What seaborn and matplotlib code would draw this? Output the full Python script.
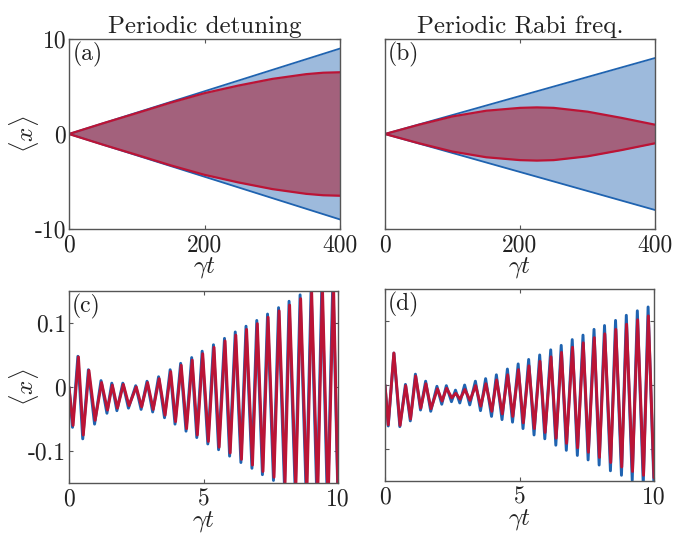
import numpy as np
import pandas as pd
import matplotlib
matplotlib.use("Agg")
import matplotlib.pyplot as plt
import seaborn as sns

# --- data ---
# (a) periodic detuning, envelopes
t_env_a = [0, 400]
blue_env_a = [0, 9.0]
t_red_a = [0, 50, 100, 150, 200, 250, 300, 350, 375, 400]
red_env_a = [0, 1.12, 2.2, 3.3, 4.3, 5.1, 5.8, 6.3, 6.45, 6.5]

# (b) periodic Rabi frequency, envelopes
t_env_b = [0, 400]
blue_env_b = [0, 8.0]
t_red_b = [0, 50, 100, 150, 200, 225, 250, 300, 350, 400]
red_env_b = [0, 0.97, 1.85, 2.45, 2.75, 2.8, 2.75, 2.35, 1.7, 0.98]

# (c) periodic detuning, short time (extrema)
t_red_c = [0.00, 0.15, 0.35, 0.53, 0.74, 0.97, 1.21, 1.43, 1.61, 1.80, 2.02, 2.23,
           2.50, 2.70, 2.92, 3.13, 3.35, 3.57, 3.78, 3.96, 4.17, 4.37, 4.58, 4.77,
           4.97, 5.18, 5.39, 5.58, 5.80, 5.99, 6.20, 6.41, 6.60, 6.82, 7.00, 7.21,
           7.40, 7.62, 7.81, 8.03, 8.20, 8.43, 8.61, 8.84, 9.02, 9.24, 9.42, 9.63,
           9.83, 10.0]
x_red_c = [0.000, -0.060, 0.047, -0.075, 0.026, -0.052, 0.007, -0.036, 0.003, -0.033,
           0.004, -0.029, 0.000, -0.031, 0.007, -0.035, 0.013, -0.044, 0.024, -0.054,
           0.034, -0.065, 0.042, -0.075, 0.052, -0.085, 0.062, -0.094, 0.072, -0.103,
           0.081, -0.113, 0.090, -0.122, 0.099, -0.132, 0.109, -0.141, 0.119, -0.150,
           0.128, -0.159, 0.138, -0.168, 0.148, -0.177, 0.157, -0.186, 0.166, -0.17]
t_blue_c = [0.00, 0.13, 0.33, 0.51, 0.72, 0.95, 1.19, 1.41, 1.59, 1.78, 2.00, 2.21,
            2.48, 2.68, 2.90, 3.11, 3.33, 3.55, 3.76, 3.94, 4.15, 4.35, 4.56, 4.75,
            4.95, 5.16, 5.37, 5.56, 5.78, 5.97, 6.18, 6.39, 6.58, 6.80, 6.98, 7.19,
            7.38, 7.60, 7.79, 8.01, 8.18, 8.41, 8.59, 8.82, 9.00, 9.22, 9.40, 9.61,
            9.81, 10.0]
x_blue_c = [0.000, -0.063, 0.048, -0.081, 0.027, -0.058, 0.010, -0.041, 0.006, -0.037,
            0.006, -0.033, 0.002, -0.035, 0.009, -0.039, 0.016, -0.048, 0.027, -0.058,
            0.037, -0.069, 0.046, -0.079, 0.056, -0.089, 0.066, -0.098, 0.076, -0.108,
            0.086, -0.118, 0.095, -0.127, 0.104, -0.137, 0.114, -0.146, 0.124, -0.156,
            0.134, -0.165, 0.144, -0.174, 0.154, -0.184, 0.163, -0.193, 0.173, -0.18]

# (d) periodic Rabi frequency, short time (extrema)
t_red_d = [0.00, 0.12, 0.33, 0.56, 0.77, 0.95, 1.14, 1.33, 1.52, 1.71, 1.95, 2.12,
           2.29, 2.48, 2.63, 2.79, 2.97, 3.16, 3.37, 3.56, 3.75, 3.97, 4.15, 4.36,
           4.56, 4.75, 4.96, 5.14, 5.35, 5.55, 5.76, 5.95, 6.17, 6.36, 6.56, 6.75,
           6.97, 7.16, 7.37, 7.56, 7.78, 7.97, 8.17, 8.39, 8.58, 8.80, 8.98, 9.20,
           9.39, 9.61, 9.79, 10.0]
x_red_d = [0.000, -0.062, 0.050, -0.063, -0.001, -0.053, 0.014, -0.036, 0.002, -0.037,
           -0.006, -0.025, -0.005, -0.020, -0.013, -0.022, -0.007, -0.024, -0.001, -0.033,
           0.002, -0.041, 0.008, -0.045, 0.016, -0.049, 0.024, -0.059, 0.030, -0.068,
           0.037, -0.074, 0.044, -0.083, 0.051, -0.091, 0.059, -0.098, 0.066, -0.105,
           0.074, -0.113, 0.080, -0.121, 0.087, -0.128, 0.095, -0.135, 0.102, -0.141,
           0.108, -0.145]
t_blue_d = [0.00, 0.12, 0.33, 0.55, 0.76, 0.94, 1.13, 1.32, 1.51, 1.70, 1.93, 2.11,
            2.28, 2.47, 2.62, 2.78, 2.96, 3.15, 3.36, 3.55, 3.74, 3.96, 4.14, 4.35,
            4.55, 4.74, 4.95, 5.13, 5.34, 5.54, 5.75, 5.94, 6.16, 6.35, 6.55, 6.74,
            6.96, 7.15, 7.36, 7.55, 7.77, 7.96, 8.16, 8.38, 8.57, 8.79, 8.97, 9.19,
            9.38, 9.60, 9.78, 10.0]
x_blue_d = [0.000, -0.064, 0.050, -0.065, 0.001, -0.056, 0.017, -0.039, 0.006, -0.041,
            -0.002, -0.030, -0.001, -0.026, -0.008, -0.028, 0.000, -0.031, 0.006, -0.040,
            0.010, -0.049, 0.016, -0.054, 0.025, -0.058, 0.033, -0.068, 0.040, -0.078,
            0.047, -0.084, 0.055, -0.094, 0.062, -0.102, 0.071, -0.110, 0.078, -0.117,
            0.087, -0.125, 0.093, -0.134, 0.101, -0.141, 0.109, -0.149, 0.116, -0.155,
            0.122, -0.16]

titles = ["Periodic detuning", "Periodic Rabi freq."]
panel_labels = ["(a)", "(b)", "(c)", "(d)"]

BLUE = "#1f63b0"
RED = "#bb1436"
BLUE_FILL = "#9dbadc"
RED_FILL = "#a3617c"

sns.set_style("ticks")
plt.rcParams["font.family"] = ["cmr10", "DejaVu Serif"]
plt.rcParams["mathtext.fontset"] = "cm"
plt.rcParams["axes.formatter.use_mathtext"] = True
plt.rcParams["axes.unicode_minus"] = False

fig = plt.figure(figsize=(6.88, 5.33), dpi=100)
ax_a = fig.add_axes([0.1003, 0.5704, 0.394, 0.3564])
ax_b = fig.add_axes([0.5596, 0.5704, 0.3924, 0.3564])
ax_c = fig.add_axes([0.1003, 0.0938, 0.391, 0.3602])
ax_d = fig.add_axes([0.5596, 0.0975, 0.391, 0.3602])


def envelope(ax, t_env, blue_env, t_red, red_env):
    t_env = np.array(t_env)
    blue_env = np.array(blue_env)
    t_red = np.array(t_red)
    red_env = np.array(red_env)
    ax.fill_between(t_env, -blue_env, blue_env, color=BLUE_FILL, lw=0)
    ax.fill_between(t_red, -red_env, red_env, color=RED_FILL, lw=0)
    for s in [1, -1]:
        sns.lineplot(x=t_env, y=s * blue_env, ax=ax, color=BLUE, lw=1.3)
        sns.lineplot(x=t_red, y=s * red_env, ax=ax, color=RED, lw=1.6)
    ax.set_xlim(0, 400)
    ax.set_ylim(-10, 10)
    ax.set_xticks([0, 200, 400])
    ax.set_xticklabels(["0", "200", "400"])
    ax.set_yticks([-10, 0, 10])


def oscill(ax, tb, xb, tr, xr):
    df_b = pd.DataFrame({"t": tb, "x": xb})
    df_r = pd.DataFrame({"t": tr, "x": xr})
    sns.lineplot(data=df_b, x="t", y="x", ax=ax, color=BLUE, lw=2.1)
    sns.lineplot(data=df_r, x="t", y="x", ax=ax, color=RED, lw=2.1)
    ax.set_xlim(0, 10)
    ax.set_ylim(-0.15, 0.15)
    ax.set_xticks([0, 5, 10])
    ax.set_xticklabels(["0", "5", "10"])
    ax.set_yticks([-0.1, 0, 0.1])


envelope(ax_a, t_env_a, blue_env_a, t_red_a, red_env_a)
envelope(ax_b, t_env_b, blue_env_b, t_red_b, red_env_b)
oscill(ax_c, t_blue_c, x_blue_c, t_red_c, x_red_c)
oscill(ax_d, t_blue_d, x_blue_d, t_red_d, x_red_d)

ax_a.set_yticklabels(["-10", "0", "10"])
ax_b.set_yticklabels([])
ax_c.set_yticklabels(["-0.1", "0", "0.1"])
ax_d.set_yticklabels([])

for i, ax in enumerate([ax_a, ax_b, ax_c, ax_d]):
    for sp in ax.spines.values():
        sp.set_color("#555555")
        sp.set_linewidth(1.0)
    ax.tick_params(direction="in", top=True, right=True, length=3, width=0.8,
                   color="#555555", labelsize=17, labelcolor="#222222", pad=2)
    ax.tick_params(axis="x", pad=4)
    ax.text(0.012, 0.985, panel_labels[i], transform=ax.transAxes, ha="left",
            va="top", fontsize=17, color="#222222")
    ax.set_xlabel(r"$\gamma t$", fontsize=18, labelpad=-1, color="#222222")
    ax.set_ylabel("")

ax_a.set_ylabel(r"$\langle x\rangle$", fontsize=18, color="#222222")
ax_c.set_ylabel(r"$\langle x\rangle$", fontsize=18, color="#222222")
ax_a.yaxis.set_label_coords(-0.105, 0.5)
ax_c.yaxis.set_label_coords(-0.105, 0.5)
ax_a.set_title(titles[0], fontsize=18, pad=4, color="#222222")
ax_b.set_title(titles[1], fontsize=18, pad=4, color="#222222")

fig.savefig("out.png", dpi=100)
